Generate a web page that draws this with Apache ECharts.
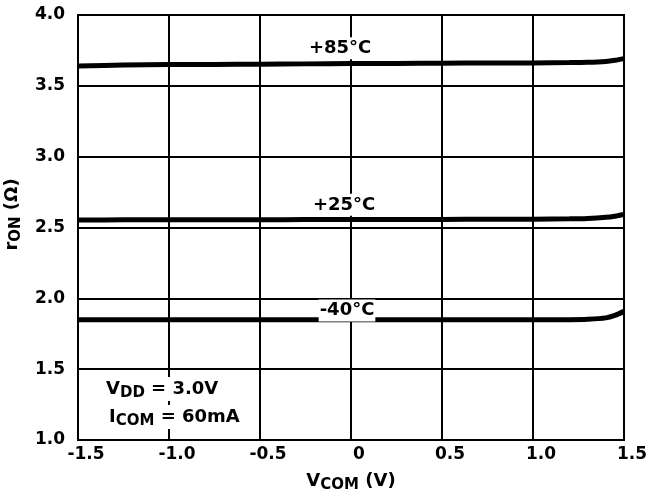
<!DOCTYPE html>
<html><head><meta charset="utf-8">
<script src="https://cdn.jsdelivr.net/npm/echarts@6/dist/echarts.min.js"></script>
<style>html,body{margin:0;padding:0;background:#fff}#c{width:649px;height:495px}</style>
</head><body><div id="c"></div>
<script>
const vcom = [-1.5, -1.25, -1.0, -0.75, -0.5, -0.25, 0, 0.25, 0.5, 0.75, 1.0, 1.2, 1.3, 1.4, 1.45, 1.5];
const r85  = [3.640, 3.647, 3.650, 3.651, 3.653, 3.655, 3.657, 3.658, 3.660, 3.661, 3.662, 3.664, 3.666, 3.672, 3.680, 3.692];
const r25  = [2.553, 2.554, 2.554, 2.555, 2.555, 2.556, 2.556, 2.557, 2.557, 2.558, 2.559, 2.561, 2.564, 2.572, 2.580, 2.592];
const rm40 = [1.848, 1.848, 1.848, 1.848, 1.848, 1.848, 1.848, 1.848, 1.848, 1.848, 1.848, 1.849, 1.852, 1.862, 1.880, 1.908];
const xTicks = {min: -1.5, max: 1.5, step: 0.5};
const yTicks = {min: 1.0, max: 4.0, step: 0.5};
const tempLabels = ['+85°C', '+25°C', '-40°C'];
const labelPos = [[-0.06, 3.765], [-0.038, 2.660], [-0.022, 1.915]];

const FONT = 'DejaVu Sans';
const pair = a => vcom.map((x, i) => [x, a[i]]);
const series = [r85, r25, rm40].map((arr, k) => ({
  type: 'line', data: pair(arr), smooth: 0.3, symbol: 'none',
  lineStyle: {color: '#000', width: 5}, z: 5,
  markPoint: {
    symbol: 'circle', symbolSize: 0, silent: true, z: 8,
    data: [{coord: labelPos[k], value: tempLabels[k]}],
    label: {show: true, formatter: tempLabels[k], color: '#000', fontFamily: FONT,
      fontWeight: 'bold', fontSize: 18, backgroundColor: '#fff', padding: [4, 1, 0, 1]}
  }
}));

const sub = (fs, sfs, pad) => ({
  m: {fontFamily: FONT, fontWeight: 'bold', fontSize: fs, color: '#000', fill: '#000'},
  s: {fontFamily: FONT, fontWeight: 'bold', fontSize: sfs, color: '#000', fill: '#000', padding: [pad, 0, 0, 0]}
});

const chart = echarts.init(document.getElementById('c'));
chart.setOption({
  animation: false,
  backgroundColor: '#fff',
  grid: {left: 78, right: 25, top: 15, bottom: 55, containLabel: false, outerBoundsMode: 'none',
    show: true, borderColor: '#000', borderWidth: 2, z: 3},
  xAxis: {
    type: 'value', min: xTicks.min, max: xTicks.max, interval: xTicks.step,
    axisLine: {show: true, lineStyle: {color: '#000', width: 2}},
    axisTick: {show: false},
    splitLine: {show: true, lineStyle: {color: '#000', width: 2}},
    axisLabel: {color: '#000', fontFamily: FONT, fontWeight: 'bold', fontSize: 17, margin: 6,
      padding: [0, 0, 0, 16], hideOverlap: false,
      formatter: v => v === 0 ? '0' : v.toFixed(1)},
    name: '{m|V}{s|COM}{m| (V)}', nameLocation: 'middle', nameGap: 30,
    nameTextStyle: {rich: sub(18, 15, 8)}
  },
  yAxis: {
    type: 'value', min: yTicks.min, max: yTicks.max, interval: yTicks.step,
    axisLine: {show: true, lineStyle: {color: '#000', width: 2}},
    axisTick: {show: false},
    splitLine: {show: true, lineStyle: {color: '#000', width: 2}},
    axisLabel: {color: '#000', fontFamily: FONT, fontWeight: 'bold', fontSize: 17, margin: 13,
      padding: [0, 0, 4, 0], hideOverlap: false,
      formatter: v => v.toFixed(1)},
    name: '{m|r}{s|ON}{m| (Ω)}', nameLocation: 'middle', nameGap: 54, nameRotate: 90,
    nameTextStyle: {rich: sub(18, 15, 8), padding: [0, 0, 0, 26]}
  },
  graphic: [
    {type: 'text', left: 106, top: 377, z: 10, style: {
      text: '{m|V}{s|DD}{m| = 3.0V}', backgroundColor: '#fff', rich: sub(18, 15, 9)}},
    {type: 'text', left: 109, top: 405, z: 10, style: {
      text: '{m|I}{s|COM}{m| = 60mA}', backgroundColor: '#fff', rich: sub(18, 15, 9)}}
  ],
  series: series
});
</script></body></html>
